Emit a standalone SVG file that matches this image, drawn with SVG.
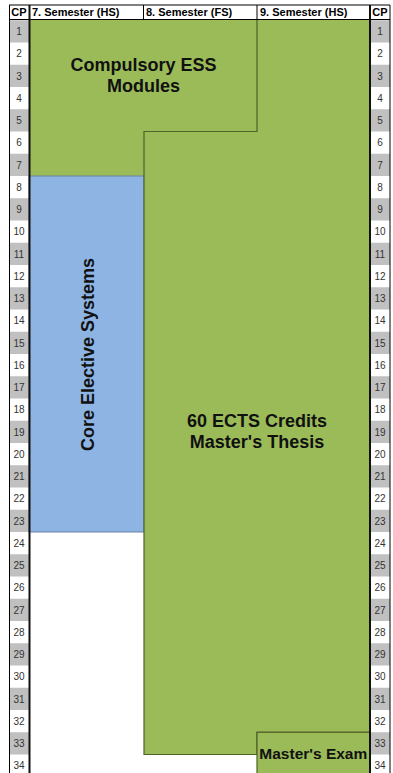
<svg xmlns="http://www.w3.org/2000/svg" width="393" height="773" viewBox="0 0 393 773">
<defs>
<style>
.hdr{font-family:"Liberation Sans",Arial,sans-serif;font-weight:bold;font-size:11px;fill:#000}
.num{font-family:"Liberation Sans",Arial,sans-serif;font-size:10px;fill:#333;text-anchor:middle}
.big{font-family:"Liberation Sans",Arial,sans-serif;font-weight:bold;font-size:18px;fill:#111;text-anchor:middle}
.gray{fill:#C0C0C0}
.green{fill:#9BBB59}
.thin{stroke:#000;stroke-width:1;fill:none}
.thick{stroke:#111;stroke-width:2;fill:none}
</style>
</defs>
<rect x="0" y="0" width="393" height="773" fill="#fff"/>

<g id="header">
<rect x="9" y="5" width="381" height="14.5" fill="#fff"/>
<text class="hdr" x="19" y="16" text-anchor="middle">CP</text>
<text class="hdr" x="32" y="16">7. Semester (HS)</text>
<text class="hdr" x="146" y="16">8. Semester (FS)</text>
<text class="hdr" x="260" y="16">9. Semester (HS)</text>
<text class="hdr" x="380" y="16" text-anchor="middle">CP</text>
</g>

<g id="cp-left">
<rect class="gray" x="9" y="20.25" width="20" height="22.25"/>
<rect class="gray" x="9" y="64.75" width="20" height="22.25"/>
<rect class="gray" x="9" y="109.25" width="20" height="22.25"/>
<rect class="gray" x="9" y="153.75" width="20" height="22.25"/>
<rect class="gray" x="9" y="198.25" width="20" height="22.25"/>
<rect class="gray" x="9" y="242.75" width="20" height="22.25"/>
<rect class="gray" x="9" y="287.25" width="20" height="22.25"/>
<rect class="gray" x="9" y="331.75" width="20" height="22.25"/>
<rect class="gray" x="9" y="376.25" width="20" height="22.25"/>
<rect class="gray" x="9" y="420.75" width="20" height="22.25"/>
<rect class="gray" x="9" y="465.25" width="20" height="22.25"/>
<rect class="gray" x="9" y="509.75" width="20" height="22.25"/>
<rect class="gray" x="9" y="554.25" width="20" height="22.25"/>
<rect class="gray" x="9" y="598.75" width="20" height="22.25"/>
<rect class="gray" x="9" y="643.25" width="20" height="22.25"/>
<rect class="gray" x="9" y="687.75" width="20" height="22.25"/>
<rect class="gray" x="9" y="732.25" width="20" height="22.25"/>
<text class="num" x="19" y="35">1</text>
<text class="num" x="19" y="57.2">2</text>
<text class="num" x="19" y="79.5">3</text>
<text class="num" x="19" y="101.7">4</text>
<text class="num" x="19" y="124">5</text>
<text class="num" x="19" y="146.2">6</text>
<text class="num" x="19" y="168.5">7</text>
<text class="num" x="19" y="190.7">8</text>
<text class="num" x="19" y="213">9</text>
<text class="num" x="19" y="235.2">10</text>
<text class="num" x="19" y="257.5">11</text>
<text class="num" x="19" y="279.7">12</text>
<text class="num" x="19" y="302">13</text>
<text class="num" x="19" y="324.2">14</text>
<text class="num" x="19" y="346.5">15</text>
<text class="num" x="19" y="368.7">16</text>
<text class="num" x="19" y="391">17</text>
<text class="num" x="19" y="413.2">18</text>
<text class="num" x="19" y="435.5">19</text>
<text class="num" x="19" y="457.7">20</text>
<text class="num" x="19" y="480">21</text>
<text class="num" x="19" y="502.2">22</text>
<text class="num" x="19" y="524.5">23</text>
<text class="num" x="19" y="546.7">24</text>
<text class="num" x="19" y="569">25</text>
<text class="num" x="19" y="591.2">26</text>
<text class="num" x="19" y="613.5">27</text>
<text class="num" x="19" y="635.7">28</text>
<text class="num" x="19" y="658">29</text>
<text class="num" x="19" y="680.2">30</text>
<text class="num" x="19" y="702.5">31</text>
<text class="num" x="19" y="724.7">32</text>
<text class="num" x="19" y="747">33</text>
<text class="num" x="19" y="769.2">34</text>
</g>

<g id="cp-right">
<rect class="gray" x="370" y="20.25" width="20" height="22.25"/>
<rect class="gray" x="370" y="64.75" width="20" height="22.25"/>
<rect class="gray" x="370" y="109.25" width="20" height="22.25"/>
<rect class="gray" x="370" y="153.75" width="20" height="22.25"/>
<rect class="gray" x="370" y="198.25" width="20" height="22.25"/>
<rect class="gray" x="370" y="242.75" width="20" height="22.25"/>
<rect class="gray" x="370" y="287.25" width="20" height="22.25"/>
<rect class="gray" x="370" y="331.75" width="20" height="22.25"/>
<rect class="gray" x="370" y="376.25" width="20" height="22.25"/>
<rect class="gray" x="370" y="420.75" width="20" height="22.25"/>
<rect class="gray" x="370" y="465.25" width="20" height="22.25"/>
<rect class="gray" x="370" y="509.75" width="20" height="22.25"/>
<rect class="gray" x="370" y="554.25" width="20" height="22.25"/>
<rect class="gray" x="370" y="598.75" width="20" height="22.25"/>
<rect class="gray" x="370" y="643.25" width="20" height="22.25"/>
<rect class="gray" x="370" y="687.75" width="20" height="22.25"/>
<rect class="gray" x="370" y="732.25" width="20" height="22.25"/>
<text class="num" x="380" y="35">1</text>
<text class="num" x="380" y="57.2">2</text>
<text class="num" x="380" y="79.5">3</text>
<text class="num" x="380" y="101.7">4</text>
<text class="num" x="380" y="124">5</text>
<text class="num" x="380" y="146.2">6</text>
<text class="num" x="380" y="168.5">7</text>
<text class="num" x="380" y="190.7">8</text>
<text class="num" x="380" y="213">9</text>
<text class="num" x="380" y="235.2">10</text>
<text class="num" x="380" y="257.5">11</text>
<text class="num" x="380" y="279.7">12</text>
<text class="num" x="380" y="302">13</text>
<text class="num" x="380" y="324.2">14</text>
<text class="num" x="380" y="346.5">15</text>
<text class="num" x="380" y="368.7">16</text>
<text class="num" x="380" y="391">17</text>
<text class="num" x="380" y="413.2">18</text>
<text class="num" x="380" y="435.5">19</text>
<text class="num" x="380" y="457.7">20</text>
<text class="num" x="380" y="480">21</text>
<text class="num" x="380" y="502.2">22</text>
<text class="num" x="380" y="524.5">23</text>
<text class="num" x="380" y="546.7">24</text>
<text class="num" x="380" y="569">25</text>
<text class="num" x="380" y="591.2">26</text>
<text class="num" x="380" y="613.5">27</text>
<text class="num" x="380" y="635.7">28</text>
<text class="num" x="380" y="658">29</text>
<text class="num" x="380" y="680.2">30</text>
<text class="num" x="380" y="702.5">31</text>
<text class="num" x="380" y="724.7">32</text>
<text class="num" x="380" y="747">33</text>
<text class="num" x="380" y="769.2">34</text>
</g>

<g id="compulsory">
<polygon class="green" points="29,19.5 257,19.5 257,131.5 144,131.5 144,176 29,176"/>
<text class="big" x="143.5" y="70.7">Compulsory ESS</text>
<text class="big" x="143.5" y="92.3">Modules</text>
</g>

<g id="core-elective">
<rect x="29" y="176" width="115" height="356" fill="#8DB4E2" stroke="#6a82a3" stroke-width="1"/>
<text class="big" transform="translate(93.5,354.5) rotate(-90)" x="0" y="0">Core Elective Systems</text>
</g>

<g id="thesis">
<polygon class="green" points="144,131.5 257,131.5 257,19.5 370,19.5 370,732.25 257,732.25 257,754.5 144,754.5" stroke="#4F6228" stroke-width="1.2"/>
<text class="big" x="257" y="427.3">60 ECTS Credits</text>
<text class="big" x="257" y="448.3">Master's Thesis</text>
</g>

<g id="masters-exam">
<rect class="green" x="257" y="732.25" width="113" height="50" stroke="#4F6228" stroke-width="1.2"/>
<text class="big" style="font-size:15.5px" x="313.3" y="759">Master's Exam</text>
</g>

<g id="connectors"></g>

<g id="grid">
<line class="thin" x1="9" y1="5" x2="390" y2="5"/>
<line class="thin" x1="9" y1="19.5" x2="390" y2="19.5"/>
<line class="thin" x1="9.5" y1="5" x2="9.5" y2="773"/>
<line class="thin" x1="390" y1="5" x2="390" y2="773"/>
<line class="thin" x1="143.5" y1="5" x2="143.5" y2="19.5"/>
<line class="thin" x1="257" y1="5" x2="257" y2="19.5"/>
<line class="thick" x1="29.5" y1="5" x2="29.5" y2="773"/>
<line class="thick" x1="370" y1="5" x2="370" y2="773"/>
</g>
</svg>
